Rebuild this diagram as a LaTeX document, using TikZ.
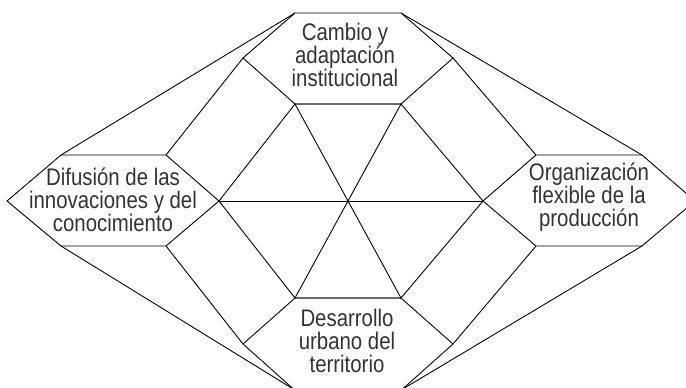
\documentclass[tikz,border=0pt]{standalone}
\usepackage{fontspec}
\setmainfont{Liberation Sans}[FakeStretch=0.85]
\definecolor{txt}{HTML}{333333}
\begin{document}
\begin{tikzpicture}[x=1pt,y=-1pt,
  edge/.style={line width=0.9pt,black,line join=miter},
  lbl/.style={align=center,text=txt,inner sep=0pt,font=\fontsize{24}{23}\selectfont}]
\useasboundingbox (0,0) rectangle (686,388);
\clip (0,0) rectangle (686,388);
% top hexagon
\coordinate (A1) at (295,13);  \coordinate (A2) at (401,13);
\coordinate (A3) at (453,58);  \coordinate (A4) at (401,104);
\coordinate (A5) at (295,104); \coordinate (A6) at (243,58);
% left hexagon
\coordinate (B1) at (61,155);  \coordinate (B2) at (166,155);
\coordinate (B3) at (219,201); \coordinate (B4) at (166,246);
\coordinate (B5) at (61,246);  \coordinate (B6) at (7,201);
% right hexagon
\coordinate (C1) at (536,155); \coordinate (C2) at (642,155);
\coordinate (C3) at (695,201); \coordinate (C4) at (642,246);
\coordinate (C5) at (536,246); \coordinate (C6) at (483,201);
% bottom hexagon
\coordinate (D1) at (295,298); \coordinate (D2) at (401,298);
\coordinate (D3) at (453,344); \coordinate (D4) at (402,389.5);
\coordinate (D5) at (294,389.5); \coordinate (D6) at (243,344);
% hexagons
\draw[edge] (A1)--(A2)--(A3)--(A4)--(A5)--(A6)--cycle;
\draw[edge] (B1)--(B2)--(B3)--(B4)--(B5)--(B6)--cycle;
\draw[edge] (C1)--(C2)--(C3)--(C4)--(C5)--(C6)--cycle;
\draw[edge] (D1)--(D2)--(D3)--(D4)--(D5)--(D6)--cycle;
% central hexagon
\draw[edge] (A5)--(A4)--(C6)--(D2)--(D1)--(B3)--cycle;
\draw[edge] (B3)--(C6);
\draw[edge] (A5)--(D2);
\draw[edge] (A4)--(D1);
% connectors
\draw[edge] (A6)--(B2);
\draw[edge] (A3)--(C1);
\draw[edge] (B4)--(D6);
\draw[edge] (C5)--(D3);
% outer lines
\draw[edge] (A1)--(B1);
\draw[edge] (A2)--(C2);
\draw[edge] (B5)--(D5);
\draw[edge] (C4)--(D4);
% labels
\node[lbl] (top) at (345,55) {Cambio y\\adaptación\\institucional};
\node[lbl] (left) at (113,200) {Difusión de las\\innovaciones y del\\conocimiento};
\node[lbl] (right) at (589,197) {Organización\\flexible de la\\producción};
\node[lbl] (bottom) at (347,341) {Desarrollo\\urbano del\\territorio};
\end{tikzpicture}
\end{document}
